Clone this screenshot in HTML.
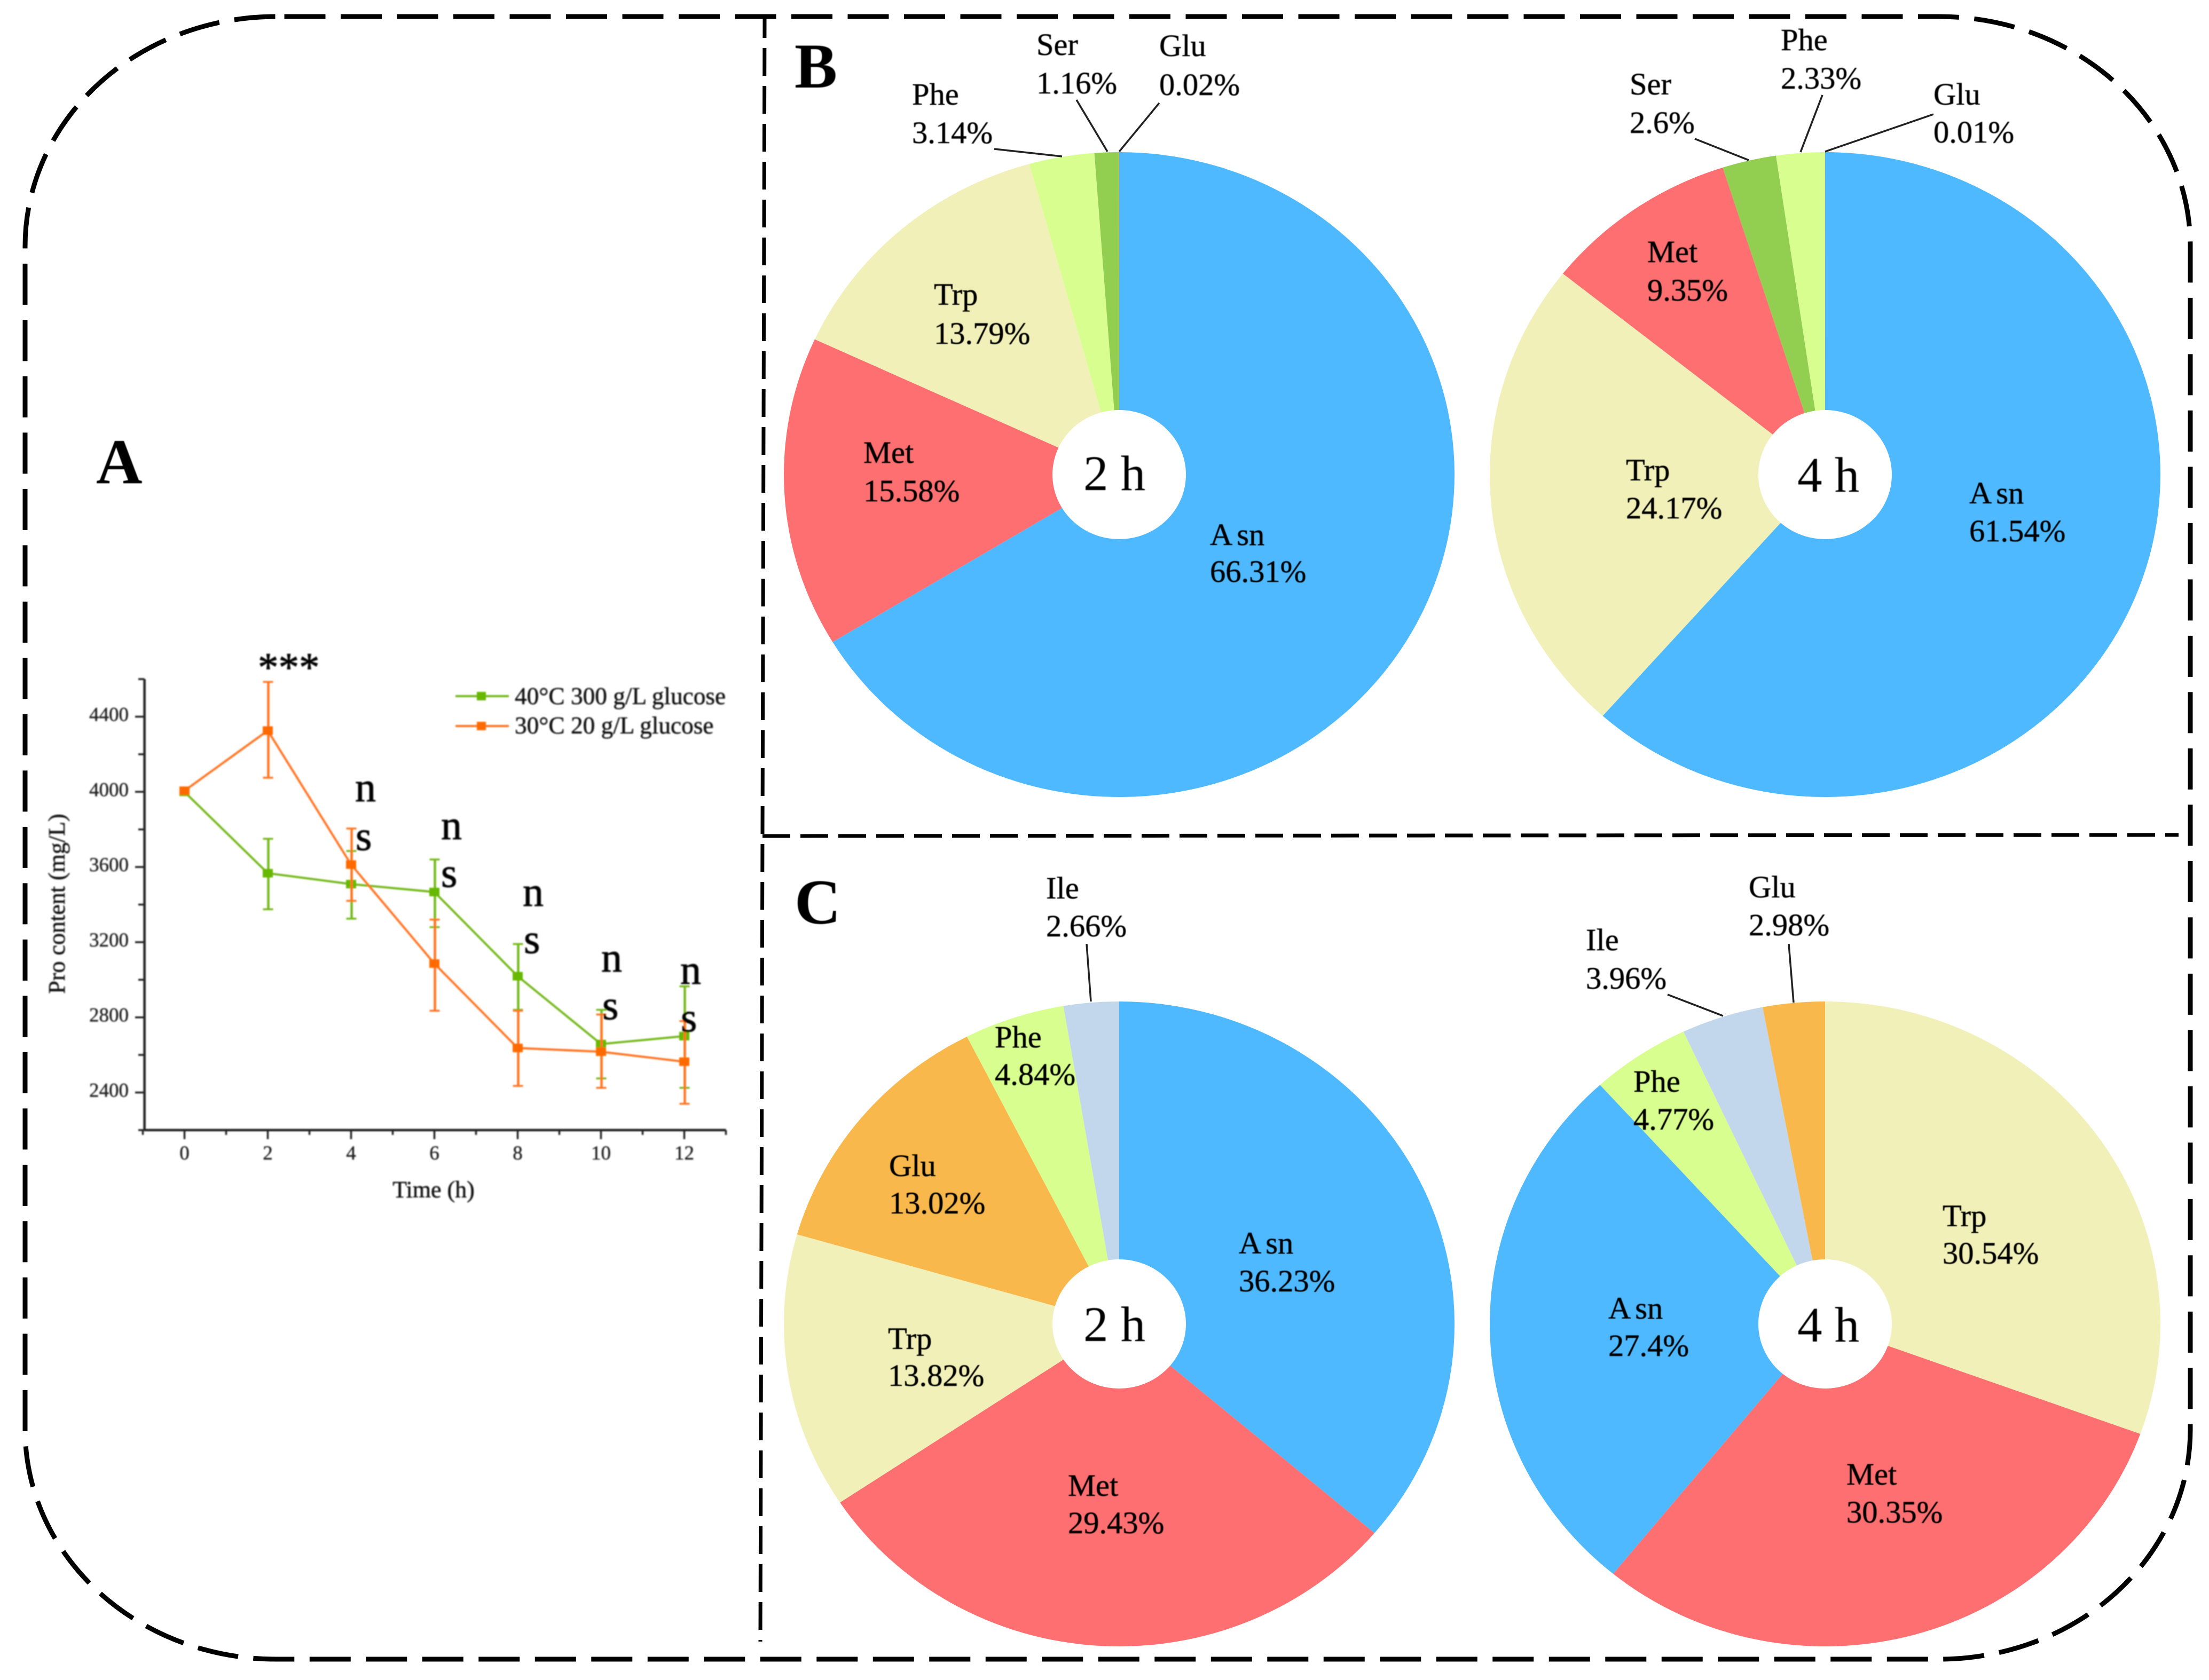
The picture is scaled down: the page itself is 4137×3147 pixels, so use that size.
<!DOCTYPE html>
<html lang="en">
<head>
<meta charset="utf-8">
<title>Amino acid composition chart</title>
<style>
html,body{margin:0;padding:0;background:#fff;}
svg{display:block;}
text{font-family:"Liberation Serif","DejaVu Serif",serif;fill:#000;}
.pl{font-size:58.5px;stroke:#000;stroke-width:0.5px;}
.ctr{font-size:93px;}
.pan{font-size:120px;font-weight:bold;}
.tick{font-size:37px;fill:#222;stroke:#222;stroke-width:0.5px;}
.ttl{font-size:44px;fill:#111;stroke:#111;stroke-width:0.5px;}
.leg{font-size:45.3px;fill:#111;stroke:#111;stroke-width:0.5px;}
.sig{font-size:78px;fill:#000;stroke:#000;stroke-width:1px;}
.lead{stroke:#222;stroke-width:3.5;fill:none;}
</style>
</head>
<body>
<svg xmlns="http://www.w3.org/2000/svg" width="4137" height="3147" viewBox="0 0 4137 3147">
<defs>
<filter id="soft" x="-5%" y="-5%" width="110%" height="110%"><feGaussianBlur stdDeviation="0.8"/></filter>
<filter id="softer" x="-5%" y="-5%" width="110%" height="110%"><feGaussianBlur stdDeviation="1.2"/></filter>
</defs>
<rect width="4137" height="3147" fill="#ffffff"/>

<path d="M517 31 H3632 A470 430 0 0 1 4102 461 V2678 A470 430 0 0 1 3632 3108 H517 A470 430 0 0 1 47 2678 V461 A470 430 0 0 1 517 31 Z" fill="none" stroke="#000" stroke-width="9" stroke-dasharray="77 28.5" stroke-dashoffset="-15.5"/>
<line x1="1432" y1="34" x2="1424" y2="3075" stroke="#000" stroke-width="7" stroke-dasharray="52 19" stroke-dashoffset="-56"/>
<line x1="1428" y1="1566" x2="4080" y2="1564" stroke="#000" stroke-width="7" stroke-dasharray="52 19"/>

<!-- Panel A -->
<g id="panel-a" filter="url(#softer)">
  <g id="axes-a"></g>
  <g id="series-a"></g>
  <text class="ttl" x="812" y="2243" text-anchor="middle">Time (h)</text>
  <text class="ttl" transform="translate(121 1693) rotate(-90)" text-anchor="middle">Pro content (mg/L)</text>
  <g>
    <g>
      <line x1="853" y1="1304" x2="953" y2="1304" stroke="#74b81a" stroke-width="4"/>
      <rect x="893" y="1296" width="17" height="16" fill="#66b800"/>
      <text class="leg" x="964" y="1319">40°C 300 g/L glucose</text>
    </g>
    <g>
      <line x1="853" y1="1360" x2="953" y2="1360" stroke="#ff7320" stroke-width="4"/>
      <rect x="893" y="1352" width="17" height="16" fill="#ff6a00"/>
      <text class="leg" x="964" y="1374">30°C 20 g/L glucose</text>
    </g>
  </g>
  <text x="483" y="1276" style="font-size:77px;fill:#000;stroke:#000;stroke-width:1px">***</text>
  <g><text class="sig" x="665" y="1501">n</text><text class="sig" x="666" y="1592">s</text></g>
  <g><text class="sig" x="826" y="1572">n</text><text class="sig" x="826" y="1661">s</text></g>
  <g><text class="sig" x="979" y="1697">n</text><text class="sig" x="981" y="1785">s</text></g>
  <g><text class="sig" x="1126" y="1820">n</text><text class="sig" x="1128" y="1909">s</text></g>
  <g><text class="sig" x="1274" y="1843">n</text><text class="sig" x="1275" y="1932">s</text></g>
</g>

<!-- Pies -->
<g id="pie-b2h"></g>
<g id="pie-b4h"></g>
<g id="pie-c2h"></g>
<g id="pie-c4h"></g>
<ellipse cx="2096" cy="889" rx="125" ry="121" fill="#fff"/>
<ellipse cx="3418" cy="889" rx="125" ry="121" fill="#fff"/>
<ellipse cx="2096" cy="2480" rx="125" ry="121" fill="#fff"/>
<ellipse cx="3418" cy="2480" rx="125" ry="121" fill="#fff"/>

<g>
  <line class="lead" x1="1862" y1="279" x2="1989" y2="293"/>
  <line class="lead" x1="2016" y1="187" x2="2074" y2="284"/>
  <line class="lead" x1="2171" y1="193" x2="2096" y2="284"/>
  <line class="lead" x1="3174" y1="260" x2="3275" y2="300"/>
  <line class="lead" x1="3413" y1="178" x2="3372" y2="285"/>
  <line class="lead" x1="3621" y1="214" x2="3418" y2="284"/>
  <line class="lead" x1="2035" y1="1768" x2="2043" y2="1876"/>
  <line class="lead" x1="3350" y1="1768" x2="3359" y2="1878"/>
  <line class="lead" x1="3123" y1="1863" x2="3227" y2="1903"/>
</g>

<g filter="url(#soft)">
  <text class="pan" x="180" y="905">A</text>
  <text class="pan" x="1488" y="164">B</text>
  <text class="pan" x="1488" y="1730">C</text>

  <text class="ctr" x="2029" y="918">2 h</text>
  <text class="ctr" x="3366" y="921">4 h</text>
  <text class="ctr" x="2029" y="2512">2 h</text>
  <text class="ctr" x="3366" y="2513">4 h</text>

  <g>
    <text class="pl" x="2266" y="1021">A<tspan dx="8">sn</tspan></text>
    <text class="pl" x="2266" y="1090">66.31%</text>
    <text class="pl" x="1617" y="867">Met</text>
    <text class="pl" x="1617" y="939">15.58%</text>
    <text class="pl" x="1749" y="571">Trp</text>
    <text class="pl" x="1749" y="644">13.79%</text>
    <text class="pl" x="1708" y="196">Phe</text>
    <text class="pl" x="1708" y="268">3.14%</text>
    <text class="pl" x="1941" y="103">Ser</text>
    <text class="pl" x="1941" y="175">1.16%</text>
    <text class="pl" x="2171" y="105">Glu</text>
    <text class="pl" x="2171" y="178">0.02%</text>
  </g>
  <g>
    <text class="pl" x="3688" y="943">A<tspan dx="8">sn</tspan></text>
    <text class="pl" x="3688" y="1014">61.54%</text>
    <text class="pl" x="3045" y="900">Trp</text>
    <text class="pl" x="3045" y="971">24.17%</text>
    <text class="pl" x="3085" y="491">Met</text>
    <text class="pl" x="3085" y="563">9.35%</text>
    <text class="pl" x="3052" y="177">Ser</text>
    <text class="pl" x="3052" y="249">2.6%</text>
    <text class="pl" x="3335" y="94">Phe</text>
    <text class="pl" x="3335" y="166">2.33%</text>
    <text class="pl" x="3621" y="196">Glu</text>
    <text class="pl" x="3621" y="267">0.01%</text>
  </g>
  <g>
    <text class="pl" x="2320" y="2348">A<tspan dx="8">sn</tspan></text>
    <text class="pl" x="2320" y="2419">36.23%</text>
    <text class="pl" x="2000" y="2802">Met</text>
    <text class="pl" x="2000" y="2872">29.43%</text>
    <text class="pl" x="1663" y="2527">Trp</text>
    <text class="pl" x="1663" y="2596">13.82%</text>
    <text class="pl" x="1665" y="2203">Glu</text>
    <text class="pl" x="1665" y="2273">13.02%</text>
    <text class="pl" x="1863" y="1962">Phe</text>
    <text class="pl" x="1863" y="2032">4.84%</text>
    <text class="pl" x="1959" y="1683">Ile</text>
    <text class="pl" x="1959" y="1754">2.66%</text>
  </g>
  <g>
    <text class="pl" x="3638" y="2297">Trp</text>
    <text class="pl" x="3638" y="2367">30.54%</text>
    <text class="pl" x="3458" y="2781">Met</text>
    <text class="pl" x="3458" y="2852">30.35%</text>
    <text class="pl" x="3012" y="2470">A<tspan dx="8">sn</tspan></text>
    <text class="pl" x="3012" y="2540">27.4%</text>
    <text class="pl" x="3059" y="2045">Phe</text>
    <text class="pl" x="3059" y="2116">4.77%</text>
    <text class="pl" x="2970" y="1780">Ile</text>
    <text class="pl" x="2970" y="1852">3.96%</text>
    <text class="pl" x="3275" y="1681">Glu</text>
    <text class="pl" x="3275" y="1752">2.98%</text>
  </g>
</g>
</svg>

<script>
// Pie data
const b2hCategories = ["Asn","Met","Trp","Phe","Ser","Glu"];
const b2hValues = [66.31,15.58,13.79,3.14,1.16,0.02];
const b4hCategories = ["Asn","Trp","Met","Ser","Phe","Glu"];
const b4hValues = [61.54,24.17,9.35,2.6,2.33,0.01];
const c2hCategories = ["Asn","Met","Trp","Glu","Phe","Ile"];
const c2hValues = [36.23,29.43,13.82,13.02,4.84,2.66];
const c4hCategories = ["Trp","Met","Asn","Phe","Ile","Glu"];
const c4hValues = [30.54,30.35,27.4,4.77,3.96,2.98];

// Line chart data
const timeHours = [0,2,4,6,8,10,12];
const greenValues = [4000,3567,3509,3467,3019,2658,2700];
const greenUpper = [4000,3750,3685,3640,3190,2840,2965];
const greenLower = [4000,3375,3325,3280,2840,2475,2425];
const orangeValues = [4006,4326,3613,3086,2637,2617,2564];
const orangeUpper = [4006,4585,3805,3320,2835,2815,2780];
const orangeLower = [4006,4075,3420,2835,2435,2425,2340];
const xTickLabels = [0,2,4,6,8,10,12];
const xMinorTicks = [-1,1,3,5,7,9,11,13];
const yTickLabels = [2400,2800,3200,3600,4000,4400];
const yMinorTicks = [2200,2600,3000,3400,3800,4200,4600];

const SVGNS = "http://www.w3.org/2000/svg";
const sliceColors = {Asn:"#4fb9ff",Met:"#fd6f70",Trp:"#f1f0b8",Phe:"#d7fe8e",Ser:"#92ce50",Glu:"#f8b84b",Ile:"#c2d7ec"};

function make(tag, attrs, parent){
  const el = document.createElementNS(SVGNS, tag);
  for (const k in attrs) el.setAttribute(k, attrs[k]);
  parent.appendChild(el);
  return el;
}

function drawPie(groupId, categories, values, cx, cy, rx, ry){
  const g = document.getElementById(groupId);
  const total = values.reduce((a,b)=>a+b,0);
  let acc = 0;
  values.forEach((v,i)=>{
    const a0 = acc/total*2*Math.PI;
    acc += v;
    const a1 = acc/total*2*Math.PI;
    const x0 = cx + rx*Math.sin(a0), y0 = cy - ry*Math.cos(a0);
    const x1 = cx + rx*Math.sin(a1), y1 = cy - ry*Math.cos(a1);
    const large = (a1-a0) > Math.PI ? 1 : 0;
    const d = "M"+cx+" "+cy+" L"+x0.toFixed(2)+" "+y0.toFixed(2)+" A"+rx+" "+ry+" 0 "+large+" 1 "+x1.toFixed(2)+" "+y1.toFixed(2)+" Z";
    const el = make("path",{d:d,fill:sliceColors[categories[i]]},g);
    
    
  });
}
drawPie("pie-b2h", b2hCategories, b2hValues, 2096, 889, 628, 604);
drawPie("pie-b4h", b4hCategories, b4hValues, 3418, 889, 628, 604);
drawPie("pie-c2h", c2hCategories, c2hValues, 2096, 2480, 628, 604);
drawPie("pie-c4h", c4hCategories, c4hValues, 3418, 2480, 628, 604);

// Axis functions
function xScale(t){ return 345.5 + 78*t; }
function yScale(v){ return 1342.5 + (4400-v)*0.352; }

const axes = document.getElementById("axes-a");
const AXC = "#222";
const yAxisLine = make("line",{x1:xScale(-0.96),x2:xScale(-0.96),y1:yScale(4600),y2:yScale(2200),stroke:AXC,"stroke-width":4.5},axes);


const xAxisLine = make("line",{x1:xScale(-0.96),x2:xScale(13),y1:yScale(2200),y2:yScale(2200),stroke:AXC,"stroke-width":4.5},axes);



yTickLabels.forEach(v=>{
  const y = yScale(v);
  const t = make("line",{x1:253,x2:xScale(-0.96),y1:y,y2:y,stroke:AXC,"stroke-width":3.5},axes);
  
  
  const l = make("text",{x:241,y:y+8,"text-anchor":"end","class":"tick"},axes);
  
  
  l.textContent = v;
});
yMinorTicks.forEach(v=>{
  const y = yScale(v);
  const t = make("line",{x1:259,x2:xScale(-0.96),y1:y,y2:y,stroke:AXC,"stroke-width":3.5},axes);
  
  
});
xTickLabels.forEach(v=>{
  const x = xScale(v);
  const base = yScale(2200);
  const t = make("line",{x1:x,x2:x,y1:base,y2:base+17,stroke:AXC,"stroke-width":3.5},axes);
  
  
  const l = make("text",{x:x,y:2172,"text-anchor":"middle","class":"tick"},axes);
  
  
  l.textContent = v;
});
xMinorTicks.forEach(v=>{
  const x = xScale(v);
  const base = yScale(2200);
  const t = make("line",{x1:x,x2:x,y1:base,y2:base+9,stroke:AXC,"stroke-width":3.5},axes);
  
  
});

const seriesG = document.getElementById("series-a");
function drawSeries(name, values, upper, lower, lineColor, markerColor){
  const g = make("g",{},seriesG);
  
  
  timeHours.forEach((t,i)=>{
    if (upper[i] === lower[i]) return;
    const x = xScale(t), yu = yScale(upper[i]), yl = yScale(lower[i]);
    const stem = make("line",{x1:x+1,x2:x+1,y1:yu,y2:yl,stroke:lineColor,"stroke-width":4.5},g);
    
    
    const caps = make("path",{d:"M"+(x-9)+" "+yu+" H"+(x+10)+" M"+(x-9)+" "+yl+" H"+(x+10),stroke:lineColor,"stroke-width":3.5,fill:"none"},g);
    
    
  });
  const pts = timeHours.map((t,i)=>xScale(t).toFixed(1)+","+yScale(values[i]).toFixed(1)).join(" ");
  const pl = make("polyline",{points:pts,fill:"none",stroke:lineColor,"stroke-width":4},g);
  
  
  timeHours.forEach((t,i)=>{
    const m = make("rect",{x:xScale(t)-9.5,y:yScale(values[i])-8,width:19,height:16,fill:markerColor},g);
    
    
  });
}
drawSeries("40c-300gl", greenValues, greenUpper, greenLower, "#74b81a", "#66b800");
drawSeries("30c-20gl", orangeValues, orangeUpper, orangeLower, "#ff7320", "#ff6a00");
</script>
</body>
</html>
